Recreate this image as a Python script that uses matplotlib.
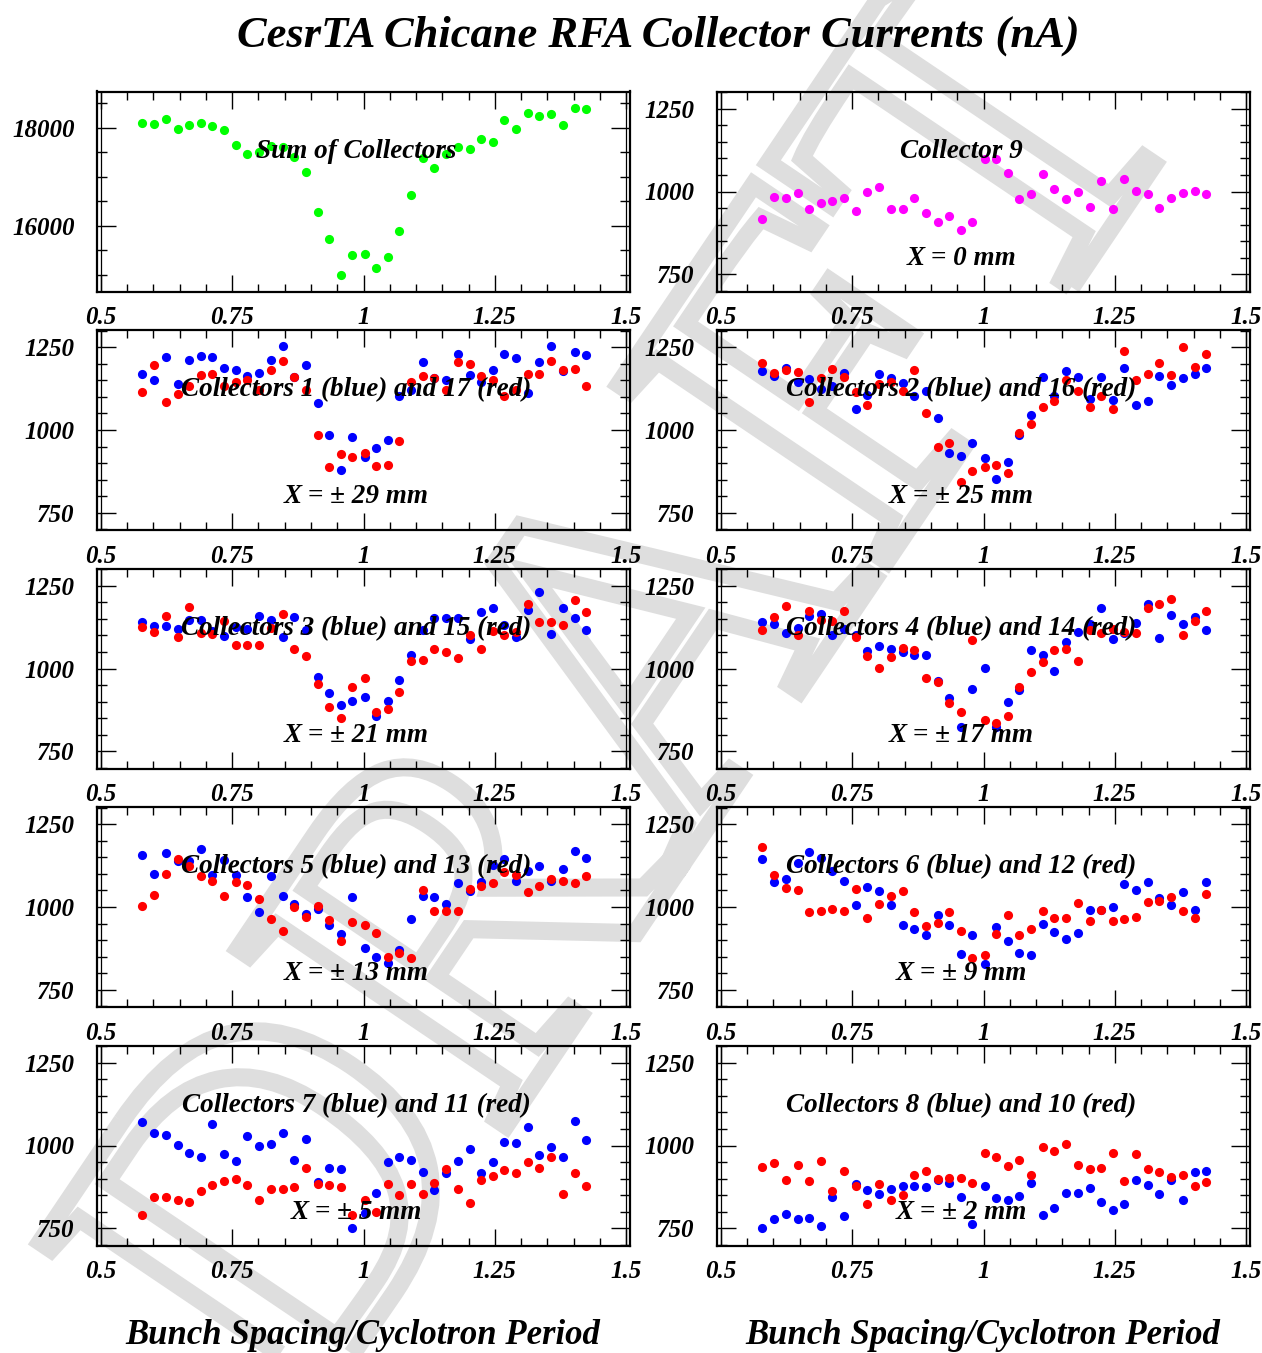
import numpy as np
import matplotlib
matplotlib.use("Agg")
import matplotlib.pyplot as plt
from matplotlib.ticker import FixedLocator, MultipleLocator, FixedFormatter
from matplotlib.textpath import TextPath
from matplotlib.patches import PathPatch
from matplotlib.font_manager import FontProperties
import matplotlib.transforms as mtransforms

plt.rcParams["font.family"] = "Liberation Serif"
plt.rcParams["font.style"] = "italic"
plt.rcParams["font.weight"] = "bold"

# Bunch spacing / cyclotron period
x = [0.579, 0.601, 0.623, 0.646, 0.668, 0.690, 0.712, 0.735, 0.757, 0.779,
     0.801, 0.824, 0.846, 0.868, 0.890, 0.913, 0.935, 0.957, 0.979, 1.002,
     1.024, 1.046, 1.068, 1.091, 1.113, 1.135, 1.157, 1.180, 1.202, 1.224,
     1.246, 1.268, 1.291, 1.313, 1.335, 1.357, 1.380, 1.402, 1.424]

# Collector currents (nA)
sum_all = [18108, 18074, 18175, 17987, 18067, 18108, 18040, 17953, 17650, 17468,
           17515, 17636, 17616, 17414, 17098, 16276, 15724, 15003, 15414, 15434,
           15138, 15360, 15892, 16633, 17394, 17192, 17475, 17609, 17562, 17785,
           17710, 18162, 17987, 18310, 18242, 18290, 18067, 18404, 18384]
c9 = [916, 983, 979, 995, 948, 964, 970, 981, 941, 998,
      1013, 948, 948, 981, 935, 908, 927, 884, 907, 1098,
      1098, 1056, 976, 993, 1054, 1009, 976, 999, 953, 1031,
      946, 1039, 1003, 993, 950, 981, 995, 1003, 991]
c1 = [1170, 1152, 1219, 1140, 1211, 1223, 1219, 1187, 1181, 1162,
      1172, 1210, 1254, 1160, 1195, 1082, 985, 878, 978, 918,
      947, 970, 1102, 1120, 1206, 1157, 1152, 1230, 1167, 1145,
      1182, 1230, 1217, 1112, 1206, 1254, 1177, 1237, 1228]
c17 = [1116, 1195, 1085, 1110, 1132, 1166, 1170, 1132, 1145, 1152,
       1120, 1180, 1207, 1160, 1120, 985, 888, 927, 918, 930,
       892, 894, 966, 1144, 1162, 1156, 1120, 1204, 1198, 1162,
       1152, 1104, 1120, 1168, 1170, 1208, 1180, 1184, 1132]
c2 = [1177, 1162, 1186, 1144, 1155, 1124, 1132, 1172, 1064, 1105,
      1170, 1157, 1142, 1104, 1117, 1036, 932, 922, 962, 914,
      852, 902, 986, 1046, 1159, 1104, 1179, 1160, 1094, 1159,
      1092, 1186, 1077, 1087, 1164, 1137, 1157, 1170, 1186]
c16 = [1202, 1171, 1182, 1175, 1084, 1157, 1184, 1160, 1114, 1074,
       1140, 1146, 1119, 1182, 1050, 950, 960, 843, 877, 888,
       894, 870, 992, 1018, 1070, 1089, 1152, 1119, 1070, 1104,
       1064, 1240, 1152, 1170, 1202, 1167, 1250, 1191, 1231]
c3 = [1139, 1127, 1127, 1119, 1145, 1145, 1114, 1097, 1124, 1119,
      1159, 1145, 1095, 1156, 1116, 975, 927, 889, 902, 914,
      858, 902, 965, 1040, 1116, 1152, 1152, 1154, 1089, 1170,
      1182, 1132, 1096, 1177, 1232, 1105, 1182, 1154, 1116]
c15 = [1126, 1109, 1160, 1096, 1186, 1106, 1105, 1142, 1070, 1070,
       1070, 1122, 1164, 1058, 1039, 952, 884, 851, 945, 972,
       870, 878, 929, 1024, 1027, 1059, 1049, 1032, 1102, 1059,
       1112, 1100, 1110, 1194, 1141, 1139, 1132, 1207, 1170]
c4 = [1140, 1134, 1107, 1122, 1160, 1166, 1101, 1119, 1102, 1054,
      1067, 1060, 1050, 1042, 1042, 962, 910, 822, 937, 1001,
      822, 900, 936, 1056, 1041, 993, 1081, 1110, 1134, 1182,
      1088, 1107, 1137, 1194, 1092, 1162, 1134, 1156, 1116]
c14 = [1117, 1157, 1190, 1100, 1175, 1146, 1142, 1175, 1096, 1039,
       1002, 1035, 1062, 1056, 972, 960, 896, 870, 1086, 843,
       835, 856, 944, 990, 1020, 1057, 1059, 1022, 1117, 1107,
       1120, 1110, 1106, 1182, 1195, 1211, 1100, 1144, 1175]
c5 = [1156, 1101, 1164, 1139, 1139, 1176, 1097, 1142, 1097, 1031,
      986, 1095, 1034, 1009, 979, 995, 947, 919, 1031, 875,
      850, 832, 870, 965, 1034, 1029, 1010, 1073, 1049, 1076,
      1127, 1144, 1079, 1109, 1124, 1079, 1116, 1169, 1147]
c13 = [1004, 1037, 1101, 1144, 1125, 1095, 1080, 1034, 1075, 1066,
       1025, 964, 929, 1001, 970, 1004, 962, 896, 954, 945,
       921, 848, 862, 845, 1050, 987, 987, 989, 1055, 1064,
       1071, 1106, 1097, 1046, 1064, 1086, 1079, 1073, 1095]
c6 = [1144, 1076, 1086, 1132, 1167, 1149, 1110, 1079, 1007, 1060,
      1048, 1007, 946, 934, 914, 976, 945, 857, 914, 828,
      941, 897, 862, 855, 949, 925, 902, 921, 991, 991,
      1000, 1070, 1052, 1077, 1027, 1005, 1044, 991, 1074]
c12 = [1182, 1096, 1057, 1051, 984, 987, 995, 989, 1055, 966,
       1009, 1032, 1047, 985, 942, 952, 985, 929, 845, 856,
       917, 977, 914, 933, 987, 967, 966, 1012, 958, 991,
       959, 964, 970, 1014, 1018, 1029, 989, 966, 1040]
c7 = [1070, 1037, 1032, 1002, 977, 965, 1064, 975, 954, 1030,
      999, 1005, 1037, 955, 1019, 889, 932, 930, 752, 797,
      858, 949, 966, 956, 921, 865, 918, 952, 989, 918,
      950, 1011, 1007, 1055, 972, 995, 966, 1075, 1017]
c11 = [789, 845, 843, 836, 830, 862, 882, 892, 898, 880,
       834, 869, 870, 874, 932, 884, 880, 876, 790, 835,
       799, 884, 850, 884, 854, 887, 930, 870, 827, 895,
       909, 927, 917, 950, 932, 966, 854, 917, 877]
c8 = [752, 777, 794, 778, 782, 757, 845, 786, 885, 866,
      854, 868, 879, 879, 876, 895, 886, 843, 762, 879,
      842, 835, 849, 887, 790, 812, 856, 858, 872, 829,
      805, 824, 897, 881, 854, 895, 835, 920, 922]
c10 = [934, 947, 895, 940, 894, 954, 864, 923, 879, 824,
       884, 835, 852, 911, 922, 900, 902, 903, 886, 977,
       964, 939, 956, 911, 995, 983, 1006, 940, 929, 932,
       977, 892, 974, 929, 920, 905, 911, 879, 890]

# (title, position note, [(values, colour), ...]) for each panel, row by row
panels = [
    ("Sum of Collectors", None, [(sum_all, "#00ff00")]),
    ("Collector 9", "X = 0 mm", [(c9, "#ff00ff")]),
    ("Collectors 1 (blue) and 17 (red)", "X = \u00b1 29 mm", [(c1, "#0000ff"), (c17, "#ff0000")]),
    ("Collectors 2 (blue) and 16 (red)", "X = \u00b1 25 mm", [(c2, "#0000ff"), (c16, "#ff0000")]),
    ("Collectors 3 (blue) and 15 (red)", "X = \u00b1 21 mm", [(c3, "#0000ff"), (c15, "#ff0000")]),
    ("Collectors 4 (blue) and 14 (red)", "X = \u00b1 17 mm", [(c4, "#0000ff"), (c14, "#ff0000")]),
    ("Collectors 5 (blue) and 13 (red)", "X = \u00b1 13 mm", [(c5, "#0000ff"), (c13, "#ff0000")]),
    ("Collectors 6 (blue) and 12 (red)", "X = \u00b1 9 mm", [(c6, "#0000ff"), (c12, "#ff0000")]),
    ("Collectors 7 (blue) and 11 (red)", "X = \u00b1 5 mm", [(c7, "#0000ff"), (c11, "#ff0000")]),
    ("Collectors 8 (blue) and 10 (red)", "X = \u00b1 2 mm", [(c8, "#0000ff"), (c10, "#ff0000")]),
]

xticks = [0.5, 0.75, 1.0, 1.25, 1.5]
xticklabels = ["0.5", "0.75", "1", "1.25", "1.5"]
yticks = [750, 1000, 1250]
yticklabels = ["750", "1000", "1250"]
sum_yticks = [16000, 18000]
sum_yticklabels = ["16000", "18000"]

W, H = 1262, 1353
fig = plt.figure(figsize=(W / 100, H / 100), dpi=100)

# Large outlined "DRAFT" watermark running up the page behind the panels
fp = FontProperties(family="Liberation Serif", style="normal", weight="normal")
tp = TextPath((0, 0), "DRAFT", size=1, prop=fp)
ext = tp.get_extents()
u_t = ext.x1 - 0.30          # centre of the T stem, in em units
em = 490.0
angle = 56.0
wm_tr = (mtransforms.Affine2D().translate(-u_t, 0).scale(em)
         .rotate_deg(angle).translate(1110, H - 230))
fig.add_artist(PathPatch(tp, transform=wm_tr, facecolor="none",
                         edgecolor="#dedede", lw=13, zorder=-5))

lefts = [97, 717]
pw, ph = 533, 200
label_xfrac = [0.487, 0.458]

for i, (title, note, series) in enumerate(panels):
    row, col = divmod(i, 2)
    top = 91.5 + 238.5 * row
    ax = fig.add_axes([lefts[col] / W, 1 - (top + ph) / H, pw / W, ph / H])
    ax.set_facecolor("none")
    for vals, colr in series:
        ax.plot(x, vals, "o", ls="none", color=colr, ms=6.6, mew=0, zorder=3)
    ax.set_xlim(0.4925, 1.5075)
    ax.axvline(0.5, color="black", lw=0.9, zorder=2)
    ax.axvline(1.5, color="black", lw=0.9, zorder=2)
    if i == 0:
        ax.set_ylim(14660, 18745)
        ax.yaxis.set_major_locator(FixedLocator(sum_yticks))
        ax.yaxis.set_major_formatter(FixedFormatter(sum_yticklabels))
        ax.yaxis.set_minor_locator(MultipleLocator(500))
    else:
        ax.set_ylim(698, 1302)
        ax.yaxis.set_major_locator(FixedLocator(yticks))
        ax.yaxis.set_major_formatter(FixedFormatter(yticklabels))
        ax.yaxis.set_minor_locator(MultipleLocator(50))
    ax.xaxis.set_major_locator(FixedLocator(xticks))
    ax.xaxis.set_major_formatter(FixedFormatter(xticklabels))
    ax.xaxis.set_minor_locator(MultipleLocator(0.05))
    ax.tick_params(axis="both", which="both", direction="in", top=True, right=True,
                   width=1.0, labelsize=18)
    ax.tick_params(axis="x", which="major", length=12, pad=10.5)
    ax.tick_params(axis="x", which="minor", length=6)
    ax.tick_params(axis="y", which="major", length=14, pad=16)
    ax.tick_params(axis="y", which="minor", length=7)
    for s in ax.spines.values():
        s.set_linewidth(1.6)
    ax.text(label_xfrac[col], 0.70, title, transform=ax.transAxes,
            ha="center", va="center", fontsize=19.5, zorder=4)
    if note:
        ax.text(label_xfrac[col], 0.167, note, transform=ax.transAxes,
                ha="center", va="center", fontsize=19.5, zorder=4)

fig.text(658 / W, 1 - 36 / H, "CesrTA Chicane RFA Collector Currents (nA)",
         ha="center", va="center", fontsize=32)
for cxp in (363, 983):
    fig.text(cxp / W, 1 - 1336 / H, "Bunch Spacing/Cyclotron Period",
             ha="center", va="center", fontsize=25)

fig.savefig("out.png", dpi=100, facecolor="white")
